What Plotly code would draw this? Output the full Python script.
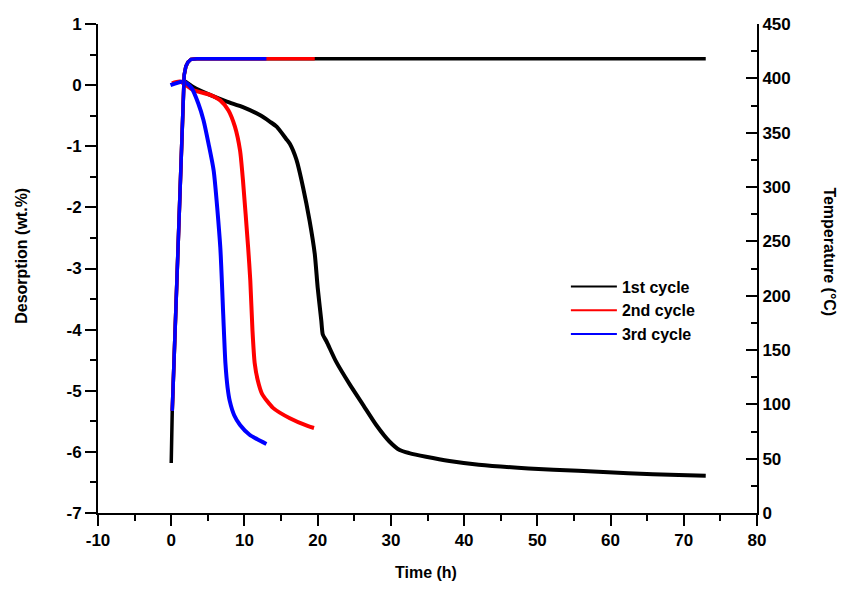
import plotly.graph_objects as go

# desorption curves (wt.%) vs time (h)
t1 = [1.9, 3.0, 5.3, 7.6, 9.8, 12.1, 13.5, 14.4, 15.7, 16.2, 17.1, 18.0, 18.9, 19.6, 20.0, 20.5, 20.7,
      21.2, 22.5, 24.4, 26.2, 28.0, 29.8, 31.2, 32.5, 34.8, 38.0, 42.0, 48.8, 55.6, 62.4, 69.3, 73.0]
d1 = [0.06, -0.03, -0.16, -0.27, -0.36, -0.49, -0.60, -0.68, -0.88, -0.96, -1.22, -1.67, -2.22, -2.76, -3.31,
      -3.86, -4.08, -4.19, -4.52, -4.90, -5.23, -5.56, -5.83, -5.97, -6.02, -6.08, -6.15, -6.21, -6.27,
      -6.31, -6.35, -6.38, -6.39]

t2 = [0.1, 1.2, 3.0, 5.3, 6.7, 7.8, 8.7, 9.4, 9.8, 10.5, 10.8, 11.1, 11.4, 11.8, 12.4, 13.9, 16.2, 18.7, 19.5]
d2 = [0.03, 0.06, -0.08, -0.16, -0.25, -0.41, -0.68, -1.07, -1.56, -2.65, -3.2, -4.02, -4.55, -4.82, -5.05,
      -5.28, -5.45, -5.58, -5.61]

t3 = [-0.1, 1.7, 2.8, 3.7, 4.4, 5.1, 5.8, 6.7, 7.1, 7.4, 7.7, 8.0, 8.6, 9.4, 10.7, 11.7, 13.0]
d3 = [0.0, 0.06, -0.05, -0.30, -0.57, -0.96, -1.40, -2.65, -3.75, -4.55, -4.95, -5.17, -5.40, -5.56, -5.72,
      -5.79, -5.87]

# temperature (°C) vs time (h)
tt1 = [0.0, 0.14, 1.0, 1.77, 2.0, 2.3, 2.7, 3.5, 10, 20, 30, 40, 50, 60, 73.0]
T1 = [46, 94, 257, 403, 411, 415, 417.5, 418, 418, 418, 418, 418, 418, 418, 418]

tt2 = [0.14, 1.0, 1.77, 2.0, 2.3, 2.7, 3.5, 10, 19.6]
T2 = [94, 257, 403, 411, 415, 417.5, 418, 418, 418]

tt3 = [0.14, 1.0, 1.77, 2.0, 2.3, 2.7, 3.5, 8, 13.0]
T3 = [94, 257, 403, 411, 415, 417.5, 418, 418, 418]

names = ["1st cycle", "2nd cycle", "3rd cycle"]
colors = ["black", "red", "blue"]

x_ticks = [-10, 0, 10, 20, 30, 40, 50, 60, 70, 80]
x_labels = ["-10", "0", "10", "20", "30", "40", "50", "60", "70", "80"]
y_ticks = [-7, -6, -5, -4, -3, -2, -1, 0, 1]
y_labels = ["-7", "-6", "-5", "-4", "-3", "-2", "-1", "0", "1"]
y2_ticks = [0, 50, 100, 150, 200, 250, 300, 350, 400, 450]
y2_labels = ["0", "50", "100", "150", "200", "250", "300", "350", "400", "450"]

FONT = dict(family="Liberation Sans, Arial", size=16, color="black", weight="bold")
TICKFONT = dict(family="Liberation Sans, Arial", size=17, color="black", weight="bold")

fig = go.Figure()
for t, d, c in zip([t1, t2, t3], [d1, d2, d3], colors):
    fig.add_trace(go.Scatter(x=t, y=d, mode="lines", line=dict(color=c, width=4, shape="spline", smoothing=0.6),
                             showlegend=False))
for t, T, c in zip([tt1, tt2, tt3], [T1, T2, T3], colors):
    fig.add_trace(go.Scatter(x=t, y=T, mode="lines", yaxis="y2",
                             line=dict(color=c, width=3.5), showlegend=False))
# legend entries
for n, c in zip(names, colors):
    fig.add_trace(go.Scatter(x=[None], y=[None], mode="lines", name=n, line=dict(color=c, width=2)))

axis_common = dict(showline=True, linecolor="black", linewidth=2, showgrid=False, zeroline=False,
                   tickwidth=2, tickcolor="black", ticklen=11, tickfont=TICKFONT, automargin=False)

# page body adds 8px on each side, so the figure is shrunk to fit the window
fig.update_layout(
    width=830, height=574,
    margin=dict(l=90, r=81, t=16, b=69),
    paper_bgcolor="white", plot_bgcolor="white",
    font=FONT,
    xaxis=dict(range=[-10, 80], tickvals=x_ticks, ticktext=x_labels, ticks="outside",
               minor=dict(dtick=5, ticks="outside", ticklen=6, tickwidth=2, tickcolor="black"),
               **axis_common),
    xaxis2=dict(range=[-10, 80], tickvals=x_ticks, ticks="inside", overlaying="x", side="top",
                showticklabels=False,
                minor=dict(dtick=5, ticks="inside", ticklen=6, tickwidth=2, tickcolor="black"),
                **axis_common),
    yaxis=dict(range=[-7, 1], tickvals=y_ticks, ticktext=y_labels, ticks="outside",
               minor=dict(dtick=0.5, ticks="outside", ticklen=6, tickwidth=2, tickcolor="black"),
               **axis_common),
    yaxis2=dict(range=[0, 450], tickvals=y2_ticks, ticktext=y2_labels, ticks="inside",
                overlaying="y", side="right",
                minor=dict(dtick=25, ticks="inside", ticklen=6, tickwidth=2, tickcolor="black"),
                **axis_common),
    legend=dict(x=0.71, y=0.498, xanchor="left", yanchor="top", bgcolor="rgba(0,0,0,0)",
                font=dict(family="Liberation Sans, Arial", size=16, color="black", weight="bold"),
                tracegroupgap=0, itemwidth=46),
    annotations=[
        dict(text="Time (h)", xref="paper", yref="paper", x=0.497, y=-0.122,
             xanchor="center", yanchor="middle", showarrow=False, font=FONT),
        dict(text="Desorption (wt.%)", xref="paper", yref="paper", x=-0.1153, y=0.526,
             xanchor="center", yanchor="middle", textangle=-90, showarrow=False, font=FONT),
        dict(text="Temperature (°C)", xref="paper", yref="paper", x=1.11, y=0.534,
             xanchor="center", yanchor="middle", textangle=90, showarrow=False, font=FONT),
    ],
)

fig.write_html("out.html")
